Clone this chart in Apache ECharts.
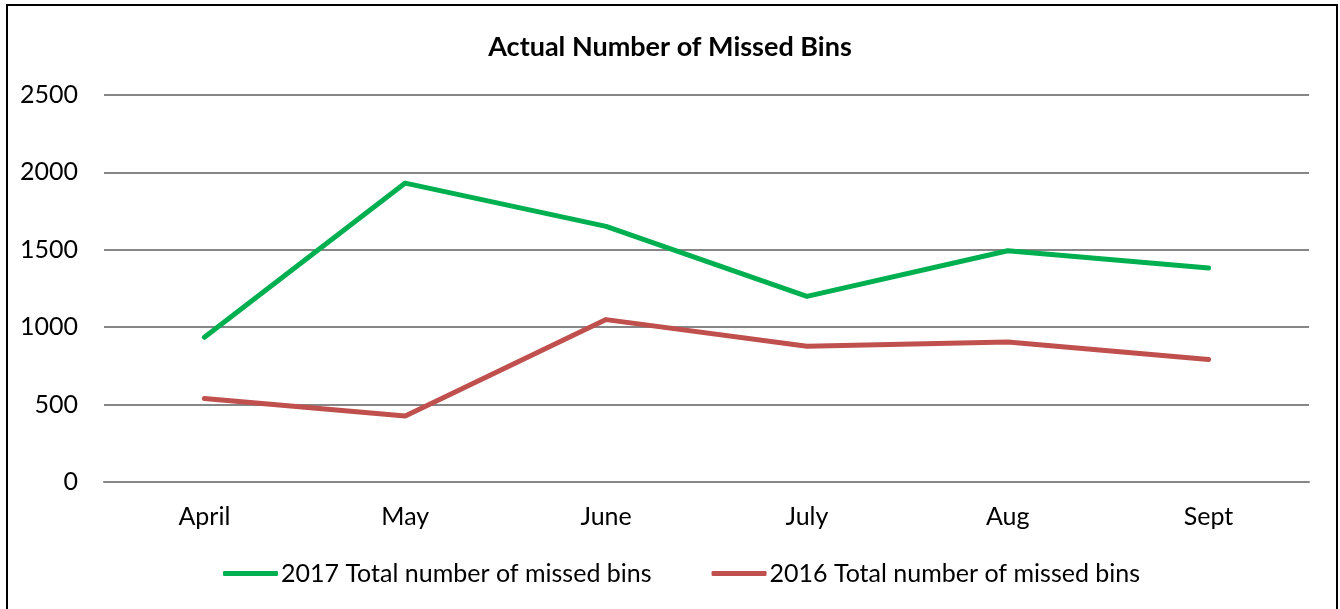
<!DOCTYPE html>
<html>
<head>
<meta charset="utf-8">
<script src="https://cdn.jsdelivr.net/npm/echarts@6/dist/echarts.min.js"></script>
<style>
html,body{margin:0;padding:0;background:#fff;}
#c{width:1340px;height:609px;}
</style>
</head>
<body>
<div id="c"></div>
<script>
const categories = ['April', 'May', 'June', 'July', 'Aug', 'Sept'];
const series2017 = [935, 1931, 1651, 1199, 1494, 1382];
const series2016 = [540, 426, 1049, 877, 905, 791];
const name2017 = '2017 Total number of missed bins';
const name2016 = '2016 Total number of missed bins';
const titleText = 'Actual Number of Missed Bins';

const FONT = 'Lato';
const chart = echarts.init(document.getElementById('c'), null, {renderer: 'canvas'});
chart.setOption({
  backgroundColor: '#fff',
  animation: false,
  graphic: [{
    type: 'rect',
    shape: {x: 7, y: 5, width: 1330, height: 606},
    style: {fill: 'none', stroke: '#000', lineWidth: 2},
    z: -1
  }],
  title: {
    text: titleText,
    left: 'center',
    top: 29,
    textStyle: {fontFamily: FONT, fontWeight: 'bold', fontSize: 27, color: '#000'}
  },
  legend: {
    bottom: 18,
    left: 218,
    itemWidth: 55,
    itemHeight: 5,
    itemGap: 60,
    icon: 'roundRect',
    textStyle: {fontFamily: FONT, fontSize: 25, color: '#000', padding: [0, 0, 0, -2]},
    data: [name2017, name2016]
  },
  grid: {left: 104, right: 31, top: 95, bottom: 127, containLabel: false},
  xAxis: {
    type: 'category',
    data: categories,
    boundaryGap: true,
    axisLine: {show: true, lineStyle: {color: '#868686', width: 2}},
    axisTick: {show: false},
    axisLabel: {fontFamily: FONT, fontSize: 25, color: '#000', margin: 22}
  },
  yAxis: {
    type: 'value',
    min: 0, max: 2500, interval: 500,
    axisLine: {show: false},
    axisTick: {show: false},
    splitLine: {lineStyle: {color: '#868686', width: 2}},
    axisLabel: {fontFamily: FONT, fontSize: 25, color: '#000', margin: 26, formatter: function (v) { return String(v); }}
  },
  series: [
    {name: name2017, type: 'line', data: series2017, symbol: 'none',
     lineStyle: {color: '#00B050', width: 5, cap: 'round', join: 'round'}, itemStyle: {color: '#00B050'}},
    {name: name2016, type: 'line', data: series2016, symbol: 'none',
     lineStyle: {color: '#C0504D', width: 5, cap: 'round', join: 'round'}, itemStyle: {color: '#C0504D'}}
  ]
});
</script>
</body>
</html>
